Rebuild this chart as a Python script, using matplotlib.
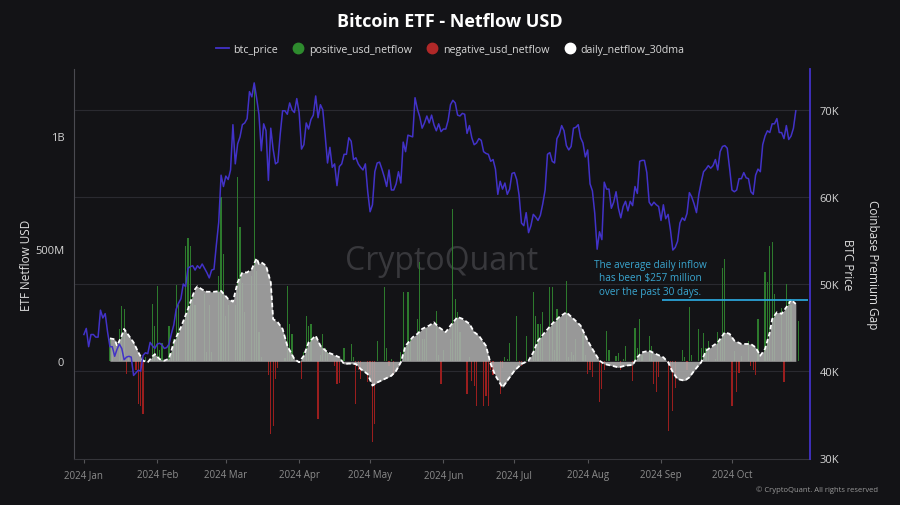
import matplotlib
matplotlib.use("Agg")
import matplotlib.pyplot as plt
import matplotlib.dates as mdates
from matplotlib.lines import Line2D
from matplotlib.transforms import blended_transform_factory
import numpy as np
import pandas as pd

plt.rcParams['font.family'] = ['Open Sans', 'DejaVu Sans']

# ---- BTC daily close (K USD), Jan 1 .. Oct 28 2024 ----
price_jan = [44.2, 44.9, 42.8, 44.2, 44.2, 43.9, 43.9, 47.0, 46.1, 46.6, 44.5, 42.8, 42.8, 41.7, 42.5, 43.1,
             42.6, 41.3, 41.6, 41.7, 41.6, 39.5, 39.8, 40.1, 40.0, 41.8, 42.1, 42.0, 43.3, 42.9, 42.6]
price_feb = [43.1, 43.2, 43.0, 42.6, 42.7, 43.1, 44.3, 45.3, 47.1, 47.8, 48.3, 50.0, 49.7, 51.8, 52.0,
             52.1, 51.6, 52.1, 51.8, 52.3, 51.8, 51.3, 50.7, 51.6, 51.7, 54.5, 57.1, 62.5, 61.2]
price_mar = [62.4, 62.0, 63.1, 68.3, 63.8, 66.1, 66.9, 68.3, 68.5, 69.0, 72.1, 71.5, 73.1, 71.4, 69.5, 65.3,
             68.4, 67.6, 61.9, 67.9, 65.5, 63.8, 64.0, 67.2, 69.9, 69.9, 69.5, 70.8, 70.0, 69.7, 71.3]
price_apr = [69.7, 65.5, 66.0, 68.5, 67.8, 68.9, 69.4, 71.6, 69.1, 70.6, 70.0, 67.1, 63.9, 65.7, 63.4,
             63.8, 61.3, 63.5, 63.8, 64.9, 64.9, 66.8, 66.4, 64.3, 64.5, 63.8, 63.4, 63.1, 63.8, 60.6]
price_may = [58.3, 59.1, 62.9, 63.9, 64.0, 63.2, 62.3, 61.2, 63.1, 60.8, 60.8, 61.5, 62.9, 61.6, 66.3, 65.2,
             67.1, 67.0, 66.9, 71.4, 70.1, 69.2, 67.9, 68.5, 69.3, 68.5, 69.4, 68.3, 67.6, 68.4, 67.5]
price_jun = [67.8, 67.8, 68.8, 70.6, 71.1, 70.8, 69.4, 69.3, 69.6, 69.5, 67.3, 68.2, 66.8, 66.0, 66.2,
             66.7, 66.5, 65.2, 65.0, 64.9, 64.1, 64.3, 63.2, 60.3, 61.8, 60.9, 61.6, 60.3, 60.9, 62.7]
price_jul = [62.8, 62.0, 60.2, 57.0, 56.7, 58.2, 55.9, 56.7, 58.0, 57.7, 57.3, 57.9, 59.2, 60.8, 64.9, 65.1,
             64.1, 63.9, 66.7, 67.2, 68.2, 67.6, 65.9, 65.4, 65.8, 67.9, 68.0, 68.3, 66.8, 66.2, 64.6]
price_aug = [65.4, 61.5, 60.7, 58.1, 54.0, 56.0, 55.1, 61.7, 60.9, 60.9, 58.7, 59.4, 60.6, 58.7, 57.6, 58.9,
             59.5, 58.4, 59.5, 59.0, 61.2, 60.4, 64.1, 64.2, 64.2, 62.8, 59.4, 59.0, 59.4, 59.1, 58.9]
price_sep = [57.3, 59.1, 57.5, 58.0, 56.2, 53.9, 54.2, 54.9, 57.0, 57.6, 57.3, 58.1, 60.5, 60.0, 59.2,
             58.2, 60.3, 61.7, 62.9, 63.2, 63.6, 63.3, 63.6, 64.3, 63.1, 65.2, 65.8, 65.9, 65.6, 63.3]
price_oct = [60.8, 60.6, 60.8, 62.1, 62.1, 62.8, 62.2, 62.1, 60.6, 60.3, 62.5, 63.2, 62.9, 66.0, 67.0,
             67.6, 67.4, 68.4, 68.4, 69.0, 67.4, 67.4, 66.7, 68.2, 66.6, 67.0, 67.9, 69.9]

# ---- ETF netflow (M USD) per trading day, Jan 11 .. Oct 28 ----
flow_jan = [100, 60, 144, 246, 232, -57, 30, -40, -190, -197, -234, 20, 255, 157, 336]
flow_feb = [50, 80, 158, 40, 100, 339, 250, 514, 547, 514, 300, 250, 0, 300, 40, 250, 40, 380, 730, 477, 200]
flow_mar = [250, 250, 818, 597, 350, 220, 380, 1225, 400, 130, 20, -60, -323, -286, -79, -30, 15, 336, 166,
            120, 0]
flow_apr = [-79, 40, 203, 158, 166, -256, 30, 120, 60, 40, -20, -101, -95, 10, 60, 77, 20, -190, -40, -80,
            -90, -60]
flow_may = [-360, -280, 90, 329, 60, -20, 10, -60, 40, 307, 50, 307, 100, 188, 440, 100, 100, 150, 0, 225,
            30, -101, 50]
flow_jun = [100, 677, 277, 217, 131, -145, 20, -86, -108, -197, -197, -153, -197, -40, -60, -145, -30, 20,
            10, 80]
flow_jul = [203, -10, -20, 0, 114, 307, 200, 166, 166, 218, 329, 329, 50, 232, 200, 358, 20, 40, 30, 100,
            120, 30, -56]
flow_aug = [-40, -70, -182, -123, -40, 136, 50, 25, 35, -40, 10, 69, -86, 150, 60, 188, 30, 114, 69, -101,
            -138, -70]
flow_sep = [0, -308, -40, -219, -120, 50, 20, -40, 240, 30, 143, 60, 128, 60, 90, 10, 130, 100, 413, 455,
            -197]
flow_oct = [47, -138, -50, 25, 90, -20, -40, -60, 188, 395, 353, 514, 529, 300, 237, -93, 344, 270, 250, 180]

# ---- 30-day moving average of netflow (M USD) ----
ma_dates = ["2024-01-12", "2024-01-14", "2024-01-15", "2024-01-17", "2024-01-18", "2024-01-20",
            "2024-01-22", "2024-01-24", "2024-01-26", "2024-01-28", "2024-01-30", "2024-01-31",
            "2024-02-02", "2024-02-04", "2024-02-06", "2024-02-08", "2024-02-11", "2024-02-14",
            "2024-02-17", "2024-02-18", "2024-02-20", "2024-02-22", "2024-02-25", "2024-02-28",
            "2024-03-02", "2024-03-04", "2024-03-06", "2024-03-08", "2024-03-10", "2024-03-12",
            "2024-03-14", "2024-03-15", "2024-03-16", "2024-03-18", "2024-03-20", "2024-03-21",
            "2024-03-23", "2024-03-25", "2024-03-27", "2024-03-30", "2024-04-01", "2024-04-03",
            "2024-04-05", "2024-04-08", "2024-04-10", "2024-04-13", "2024-04-15", "2024-04-18",
            "2024-04-20", "2024-04-22", "2024-04-25", "2024-04-27", "2024-04-30", "2024-05-02",
            "2024-05-04", "2024-05-07", "2024-05-10", "2024-05-12", "2024-05-14", "2024-05-16",
            "2024-05-19", "2024-05-21", "2024-05-23", "2024-05-26", "2024-05-28", "2024-05-30",
            "2024-06-02", "2024-06-04", "2024-06-07", "2024-06-09", "2024-06-12", "2024-06-14",
            "2024-06-16", "2024-06-19", "2024-06-21", "2024-06-23", "2024-06-26", "2024-06-28",
            "2024-07-01", "2024-07-04", "2024-07-07", "2024-07-09", "2024-07-11", "2024-07-14",
            "2024-07-17", "2024-07-20", "2024-07-23", "2024-07-26", "2024-07-29", "2024-08-01",
            "2024-08-03", "2024-08-06", "2024-08-08", "2024-08-11", "2024-08-14", "2024-08-17",
            "2024-08-20", "2024-08-22", "2024-08-24", "2024-08-27", "2024-08-30", "2024-09-02",
            "2024-09-04", "2024-09-06", "2024-09-08", "2024-09-11", "2024-09-13", "2024-09-15",
            "2024-09-18", "2024-09-20", "2024-09-22", "2024-09-25", "2024-09-28", "2024-09-30",
            "2024-10-02", "2024-10-05", "2024-10-09", "2024-10-11", "2024-10-13", "2024-10-15",
            "2024-10-17", "2024-10-18", "2024-10-20", "2024-10-22", "2024-10-25", "2024-10-26",
            "2024-10-28"]
ma_values = [102, 98, 69, 114, 144, 114, 84, 40, 3, -4, 22, 32,
             10, 3, 12, 84, 151, 232, 321, 333, 319, 309, 309, 313,
             277, 265, 351, 395, 395, 410, 458, 433, 440, 425, 351, 188,
             173, 144, 69, 10, -4, 25, 84, 114, 69, 40, 32, 18,
             -12, -10, -12, -34, -57, -108, -94, -79, -64, -42, -4, 69,
             107, 122, 144, 159, 173, 152, 130, 159, 197, 189, 167, 130,
             114, 69, -12, -64, -116, -86, -42, -12, 3, 40, 92, 130,
             167, 197, 218, 189, 159, 92, 55, 3, -12, -19, -27, -19,
             -16, 18, 40, 47, 32, 18, -4, -49, -79, -86, -71, -42,
             -4, 47, 62, 84, 129, 122, 92, 77, 77, 62, 25, 55,
             129, 188, 218, 211, 255, 274, 255]

avg_inflow_line = 272  # level of the cyan marker line (M USD)
price_ticks = [30, 40, 50, 60, 70]

BG = "#131316"
PRICE_C = "#4232c8"
GREEN = "#2d7a2d"
RED = "#9a1e1e"
GRID = "#2a2a30"

price = np.array(price_jan + price_feb + price_mar + price_apr + price_may + price_jun
                 + price_jul + price_aug + price_sep + price_oct)
price_dates = pd.date_range("2024-01-01", periods=len(price), freq="D")

flow = np.array(flow_jan + flow_feb + flow_mar + flow_apr + flow_may + flow_jun
                + flow_jul + flow_aug + flow_sep + flow_oct, dtype=float)
# CryptoQuant stamps each trading day's flow on the following day
flow_dates = pd.bdate_range("2024-01-11", "2024-10-28") + pd.Timedelta(days=1)

ma_dt = pd.to_datetime(ma_dates)
ma = np.array(ma_values, dtype=float)

fig = plt.figure(figsize=(9, 5.06), dpi=100, facecolor=BG)
ax = fig.add_axes([0.0822, 0.0909, 0.8178, 0.7708], facecolor=BG)
ax2 = ax.twinx()

# price gridlines, drawn behind the flow bars
trans = blended_transform_factory(ax.transAxes, ax2.transData)
for t in price_ticks[1:]:
    ax.plot([0, 1], [t, t], transform=trans, color=GRID, lw=0.8, zorder=0.5)

pos = flow > 0
neg = flow < 0
ax.bar(flow_dates[pos], flow[pos], width=0.5, color=GREEN, linewidth=0, zorder=1)
ax.bar(flow_dates[neg], flow[neg], width=0.5, color=RED, linewidth=0, zorder=1)
ax.fill_between(ma_dt, 0, ma, color="#b0b0b0", alpha=0.85, linewidth=0, zorder=2)
ax.plot(ma_dt, ma, color="white", lw=1.3, ls=(0, (2.5, 1.5)), zorder=3)
ax.hlines(avg_inflow_line, pd.Timestamp("2024-09-01 12:00"), pd.Timestamp("2024-11-02"),
          color="#2ba3d6", lw=1.3, zorder=5)

ax2.plot(price_dates, price, color=PRICE_C, lw=1.1, zorder=4)

x0 = pd.Timestamp("2024-01-01")
ax.set_xlim(x0 - pd.Timedelta(days=4.2), x0 + pd.Timedelta(days=307))
ax.set_ylim(-434, 1299)
ax2.set_ylim(29.9, 74.7)

ax.set_yticks([0, 500, 1000])
ax.set_yticklabels(["0", "500M", "1B"])
ax2.set_yticks(price_ticks)
ax2.set_yticklabels([f"{t}K" for t in price_ticks])
ax.tick_params(axis="y", length=0, pad=7, labelsize=8, labelcolor="#d4d4d4")
ax2.tick_params(axis="y", length=0, pad=7, labelsize=8, labelcolor="#d4d4d4")

ax.xaxis.set_major_locator(mdates.MonthLocator(bymonth=range(1, 11)))
ax.xaxis.set_major_formatter(mdates.DateFormatter("%Y %b"))
ax.tick_params(axis="x", length=3, color="#555558", pad=4, labelsize=7, labelcolor="#8c8c8c")

for s in ["top", "right"]:
    ax.spines[s].set_visible(False)
ax.spines["left"].set_color("#4a4a50")
ax.spines["bottom"].set_color("#35353a")
for s in ["top", "left", "bottom"]:
    ax2.spines[s].set_visible(False)
ax2.spines["right"].set_color(PRICE_C)
ax2.spines["right"].set_linewidth(1.3)

fig.text(0.5, 0.957, "Bitcoin ETF - Netflow USD", ha="center", va="center",
         fontsize=13, fontweight="bold", color="white")

handles = [Line2D([], [], color=PRICE_C, lw=1.3),
           Line2D([], [], ls="", marker="o", markersize=7.5, color="#2e8b2e"),
           Line2D([], [], ls="", marker="o", markersize=7.5, color="#b02828"),
           Line2D([], [], ls="", marker="o", markersize=7.5, color="white")]
labels = ["btc_price", "positive_usd_netflow", "negative_usd_netflow", "daily_netflow_30dma"]
fig.legend(handles, labels, loc="center", bbox_to_anchor=(0.5, 0.901), ncol=4, frameon=False,
           fontsize=7.7, labelcolor="#d8d8d8", handlelength=1.2, handletextpad=0.4,
           columnspacing=1.3)

fig.text(27 / 900, 1 - 265 / 506, "ETF Netflow USD", rotation=90, ha="center", va="center",
         fontsize=8.5, color="#e0e0e0")
fig.text(848 / 900, 1 - 265 / 506, "BTC Price", rotation=270, ha="center", va="center",
         fontsize=8.5, color="#e0e0e0")
fig.text(872 / 900, 1 - 265 / 506, "Coinbase Premium Gap", rotation=270, ha="center", va="center",
         fontsize=8.5, color="#e0e0e0")

fig.text(650 / 900, 1 - 279 / 506, "The average daily inflow\nhas been $257 million\nover the past 30 days.",
         ha="center", va="center", color="#3aa6d0", fontsize=7.2, linespacing=1.3)

ax.text(442 / 900, 1 - 262 / 506, "CryptoQuant", transform=fig.transFigure, ha="center", va="center",
        fontsize=23, color="#38383c", zorder=0, clip_on=False)
fig.text(878 / 900, 1 - 490 / 506, "\u00a9 CryptoQuant. All rights reserved", ha="right", va="center",
         fontsize=5.5, color="#9a9a9a")

fig.savefig("out.png", dpi=100, facecolor=BG)
